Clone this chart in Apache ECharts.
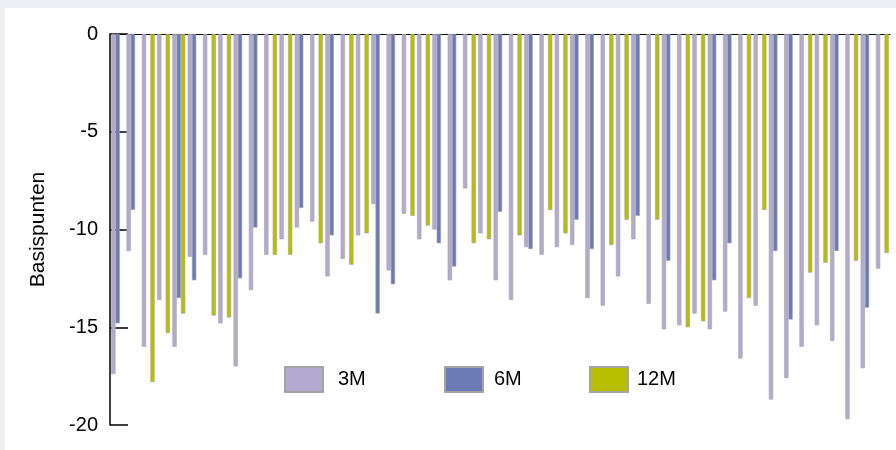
<!DOCTYPE html>
<html>
<head>
<meta charset="utf-8">
<script src="https://cdn.jsdelivr.net/npm/echarts@6/dist/echarts.min.js"></script>
<style>
html,body{margin:0;padding:0;width:896px;height:450px;overflow:hidden;background:#eeeef5;}
#chart{position:absolute;left:5px;top:8px;width:891px;height:442px;background:#fff;}
</style>
</head>
<body>
<div id="chart"></div>
<script>
const categories = ['1','2','3','4','5','6','7','8','9','10','11','12','13','14','15','16','17','18','19','20',
  '21','22','23','24','25','26','27','28','29','30','31','32','33','34','35','36','37','38','39','40',
  '41','42','43','44','45','46','47','48','49','50','51'];
const seriesNames = ['3M','6M','12M'];
const values3M = [-17.4,-11.1,-16.0,-13.6,-16.0,-11.4,-11.3,-14.8,-17.0,-13.1,-11.3,-10.5,-9.9,-9.6,-12.4,-11.5,-10.3,-8.7,-12.1,-9.2,
  -10.5,-10.0,-12.6,-7.9,-10.2,-12.6,-13.6,-10.9,-11.3,-10.9,-10.8,-13.5,-13.9,-12.4,-10.5,-13.8,-15.1,-14.9,-14.3,-15.1,
  -14.2,-16.6,-13.9,-18.7,-17.6,-16.0,-14.9,-15.7,-19.7,-17.1,-12.0];
const values6M = [-14.8,-9.0,null,null,-13.5,-12.6,null,null,-12.5,-9.9,null,null,-8.9,null,-10.3,null,null,-14.3,-12.8,null,
  null,-10.7,-11.9,null,null,-9.1,null,-11.0,null,null,-9.5,-11.0,null,null,-9.3,null,-11.6,null,null,-12.6,
  -10.7,null,null,-11.1,-14.6,null,null,-11.1,null,-14.0,null];
const values12M = [null,null,-17.8,-15.3,-14.3,null,-14.4,-14.5,null,null,-11.3,-11.3,null,-10.7,null,-11.8,-10.2,null,null,-9.3,
  -9.8,null,null,-10.7,-10.5,null,-10.3,null,-9.0,-10.2,null,null,-10.8,-9.5,null,-9.5,null,-15.0,-14.7,null,
  null,-13.5,-9.0,null,null,-12.2,-11.7,null,-11.6,null,-11.2];
const yTicks = [-20,-15,-10,-5,0];
const colors = ['#b3abcf','#6b7bb6','#b9bf00'];

const chart = echarts.init(document.getElementById('chart'), null, {renderer:'canvas'});
const allValues = [values3M, values6M, values12M];
const legendLefts = [279, 439, 584];
const legendTextPad = [10, 6, 4];
const font = 'Liberation Sans, Arial, sans-serif';
const option = {
  animation: false,
  backgroundColor: '#ffffff',
  textStyle: {fontFamily: font},
  grid: {left: 105, right: 6, top: 26, bottom: 25},
  xAxis: {
    type: 'category',
    data: categories,
    axisLine: {lineStyle: {color: '#000', width: 1}},
    axisTick: {alignWithLabel: true, length: 9, lineStyle: {color: '#000', width: 1.5}},
    axisLabel: {show: false},
    splitLine: {show: false}
  },
  yAxis: {
    type: 'value',
    min: yTicks[0], max: yTicks[yTicks.length-1], interval: 5,
    axisLine: {show: true, lineStyle: {color: '#000', width: 1.5}},
    axisTick: {show: true, inside: true, length: 18, lineStyle: {color: '#000', width: 1.5}},
    axisLabel: {fontSize: 20, color: '#000', margin: 12, fontFamily: font},
    splitLine: {show: false},
    name: 'Basispunten',
    nameLocation: 'middle',
    nameGap: 61,
    nameTextStyle: {fontSize: 21, color: '#000', fontFamily: font}
  },
  legend: seriesNames.map((n, i) => ({
    data: [n],
    left: legendLefts[i], top: 358,
    padding: 0,
    itemWidth: 38, itemHeight: 25,
    icon: 'rect',
    textStyle: {fontSize: 20, color: '#000', fontFamily: font, padding: [0,0,0,legendTextPad[i]]}
  })),
  series: seriesNames.map((n, i) => ({
    name: n,
    type: 'bar',
    data: allValues[i],
    barGap: '0%',
    barCategoryGap: '16%',
    itemStyle: {color: colors[i], borderColor: '#a4a4a4', borderWidth: 0.6}
  }))
};
chart.setOption(option);
</script>
</body>
</html>
